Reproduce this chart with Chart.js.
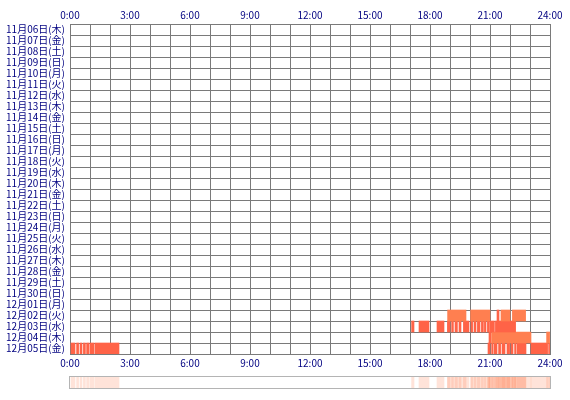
<html>
<head>

<meta charset="utf-8">

<script src="https://cdn.jsdelivr.net/npm/chart.js@4"></script>

<style>

body {
  margin: 0;
  background: #ffffff;
}

.wrap {
  position: relative;
  width: 570px;
  height: 400px;
}

#strip-box {
  position: absolute;
  left: 69px;
  top: 376px;
  width: 480px;
  height: 11px;
  border: 1px solid #b4b4b4;
}

</style>

</head>

<body>

<div class="wrap">
  <canvas id="mainChart" width="570" height="400"></canvas>
  <div id="strip-box"><canvas id="stripChart" width="480" height="11"></canvas></div>
</div>

<script>

// ==========================
// データ
// ==========================

const dayLabels = [
  "11月06日(木)", "11月07日(金)", "11月08日(土)", "11月09日(日)", "11月10日(月)",
  "11月11日(火)", "11月12日(水)", "11月13日(木)", "11月14日(金)", "11月15日(土)",
  "11月16日(日)", "11月17日(月)", "11月18日(火)", "11月19日(水)", "11月20日(木)",
  "11月21日(金)", "11月22日(土)", "11月23日(日)", "11月24日(月)", "11月25日(火)",
  "11月26日(水)", "11月27日(木)", "11月28日(金)", "11月29日(土)", "11月30日(日)",
  "12月01日(月)", "12月02日(火)", "12月03日(水)", "12月04日(木)", "12月05日(金)"
];

const hourTicks = [0, 3, 6, 9, 12, 15, 18, 21, 24];

// [開始時, 終了時]
const dec02Light = [[18.88, 19.80], [20.03, 21.00], [21.55, 22.00], [22.12, 22.78]];
const dec02Dark = [[21.35, 21.45]];

const dec03Dark = [
  [17.08, 17.20], [17.45, 17.95], [18.35, 18.70], [18.87, 19.00], [19.08, 19.17],
  [19.25, 19.37], [19.45, 19.55], [19.67, 19.95], [20.05, 20.13], [20.20, 20.30],
  [20.37, 20.50], [20.57, 20.67], [20.72, 20.80], [20.87, 20.97], [21.00, 21.22],
  [21.27, 22.28]
];

const dec04Light = [[21.08, 23.05], [23.83, 23.98]];
const dec04Dark = [[20.95, 21.05]];

const dec05Dark = [
  [0.05, 0.25], [0.33, 0.43], [0.50, 0.60], [0.67, 0.77], [0.83, 0.95],
  [1.00, 1.20], [1.25, 2.45],
  [20.90, 21.00], [21.08, 21.15], [21.20, 21.35], [21.43, 21.53], [21.60, 21.75],
  [21.85, 21.98], [22.05, 22.15], [22.23, 22.30], [22.35, 22.80], [23.05, 23.88],
  [23.93, 23.98]
];

const LIGHT = "#ff7f50";
const DARK = "#ff6347";
const STRIP = "rgba(255,127,80,0.22)";
const GRID = "#7a7a7a";
const TEXT = "#000080";


// ==========================
// データセット生成
// ==========================

const rows = [
  { day: "12月02日(火)", segs: dec02Light, color: LIGHT },
  { day: "12月02日(火)", segs: dec02Dark, color: DARK },
  { day: "12月03日(水)", segs: dec03Dark, color: DARK },
  { day: "12月04日(木)", segs: dec04Light, color: LIGHT },
  { day: "12月04日(木)", segs: dec04Dark, color: DARK },
  { day: "12月05日(金)", segs: dec05Dark, color: DARK }
];

const mainSets = [];
const stripSets = [];

for (const r of rows) {

  for (const s of r.segs) {

    mainSets.push({
      data: [{ x: s, y: r.day }],
      backgroundColor: r.color,
      grouped: false,
      barPercentage: 1,
      categoryPercentage: 1,
      xAxisID: "x"
    });

    stripSets.push({
      data: [{ x: s, y: "all" }],
      backgroundColor: STRIP,
      grouped: false,
      barPercentage: 1,
      categoryPercentage: 1
    });

  }

}


// ==========================
// メインチャート
// ==========================

const font = { family: "'Noto Sans CJK JP', sans-serif", size: 10 };

function hourLabel(v) {
  return hourTicks.includes(v) ? v + ":00" : "";
}

new Chart(document.getElementById("mainChart"), {

  type: "bar",

  data: {
    labels: dayLabels,
    datasets: mainSets
  },

  options: {
    indexAxis: "y",
    responsive: false,
    animation: false,
    layout: {
      padding: { left: 0, right: 20, top: 0, bottom: 30 }
    },
    plugins: {
      legend: { display: false },
      tooltip: { enabled: false }
    },
    scales: {
      x: {
        type: "linear",
        position: "bottom",
        min: 0,
        max: 24,
        z: 1,
        afterFit: s => { s.height = 16; },
        grid: { color: GRID, drawTicks: false },
        border: { color: GRID },
        ticks: {
          stepSize: 1,
          autoSkip: false,
          maxRotation: 0,
          padding: 3,
          color: TEXT,
          font: font,
          callback: hourLabel
        }
      },
      x2: {
        type: "linear",
        position: "top",
        min: 0,
        max: 24,
        afterFit: s => { s.height = 24; },
        grid: { display: false, drawTicks: false },
        border: { display: false },
        ticks: {
          stepSize: 1,
          autoSkip: false,
          maxRotation: 0,
          padding: 3,
          color: TEXT,
          font: font,
          callback: hourLabel
        }
      },
      y: {
        type: "category",
        z: 1,
        afterFit: s => { s.width = 70; },
        grid: { color: GRID, drawTicks: false, offset: true },
        border: { color: GRID },
        ticks: {
          autoSkip: false,
          padding: 5,
          color: TEXT,
          font: font
        }
      }
    }
  }

});


// ==========================
// 集計ストリップ
// ==========================

new Chart(document.getElementById("stripChart"), {

  type: "bar",

  data: {
    labels: ["all"],
    datasets: stripSets
  },

  options: {
    indexAxis: "y",
    responsive: false,
    animation: false,
    layout: { padding: 0 },
    plugins: {
      legend: { display: false },
      tooltip: { enabled: false }
    },
    scales: {
      x: { type: "linear", min: 0, max: 24, display: false },
      y: { display: false }
    }
  }

});

</script>

</body>
</html>
